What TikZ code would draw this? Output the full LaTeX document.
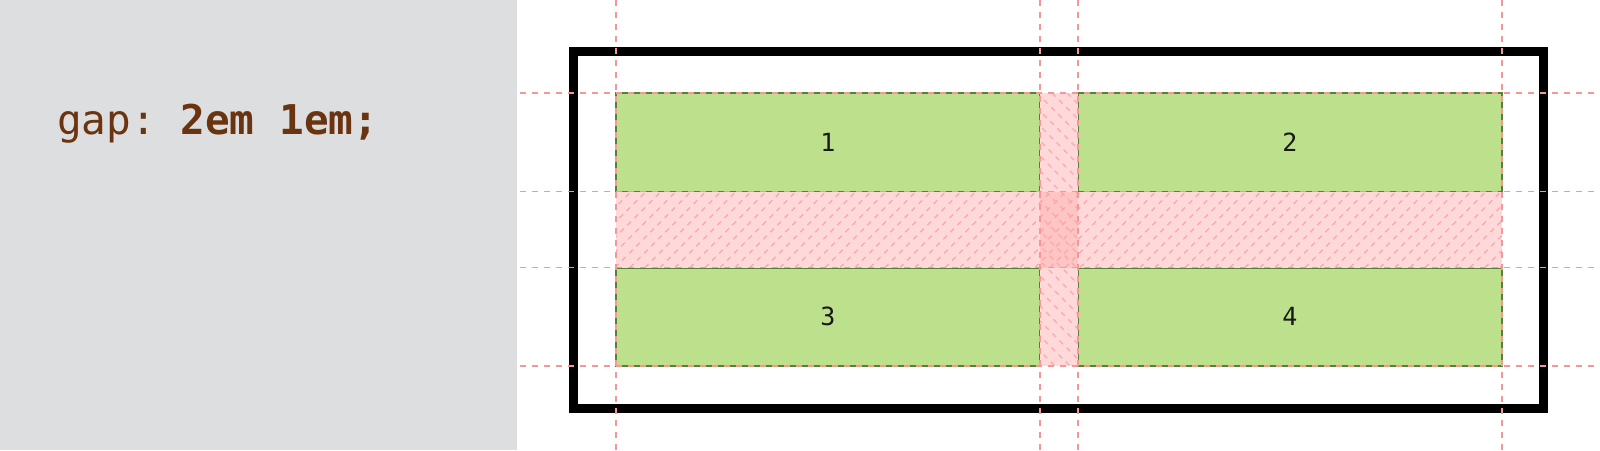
\documentclass[tikz,border=0pt]{standalone}
\usepackage{fontspec}
\setmonofont{DejaVu Sans Mono}
\usetikzlibrary{positioning}

\definecolor{panelgray}{RGB}{221,222,224}
\definecolor{codebrown}{RGB}{107,52,16}
\definecolor{cellgreen}{RGB}{189,224,140}
\definecolor{celledge}{RGB}{88,128,58}
\definecolor{guidepink}{RGB}{246,150,150}
\definecolor{hatchpink}{RGB}{250,168,168}
\definecolor{gappink}{RGB}{255,217,217}
\definecolor{crosspink}{RGB}{255,196,196}

\tikzset{
  cellbox/.style={draw=celledge, line width=2pt, fill=cellgreen,
    minimum width=424pt, minimum height=98.5pt, inner sep=0pt, outer sep=0pt,
    font=\ttfamily\fontsize{25}{30}\selectfont, text=black!90},
  hatch/.style={draw=hatchpink, line width=1.3pt, dash pattern=on 5pt off 5pt},
  guide/.style={draw=guidepink, line width=1.2pt, dash pattern=on 6pt off 6pt}
}

\begin{document}
\begin{tikzpicture}[x=1pt, y=-1pt]
  \useasboundingbox (0,0) rectangle (1600,450);

  % code panel
  \fill[panelgray] (0,0) rectangle (517,450);
  \node[anchor=base west, inner sep=0pt, text=codebrown,
        font=\ttfamily\fontsize{41}{48}\selectfont] (code) at (57,134)
        {gap: \textbf{2em 1em;}};

  % container
  \draw[line width=9pt] (573.5,51.5) rectangle (1543.5,408);

  % grid items
  \node[cellbox] (c1) at (828,142.25) {1};
  \node[cellbox, right=38pt of c1] (c2) {2};
  \node[cellbox, below=76pt of c1] (c3) {3};
  \node[cellbox, below=76pt of c2] (c4) {4};

  % gaps
  \fill[gappink] (c1.south west) rectangle (c4.north east);
  \fill[gappink] (c1.north east) rectangle (c4.south west);
  \fill[crosspink] (c1.south east) rectangle (c4.north west);
  \begin{scope}
    \clip (c1.south west) rectangle (c4.north east);
    \foreach \i in {0,...,66}
      \draw[hatch] (540+\i*15,267.5) -- ++(76,-76);
  \end{scope}
  \begin{scope}
    \clip (c1.north east) rectangle (c4.south west);
    \foreach \i in {0,...,22}
      \draw[hatch] (767+\i*15,93) -- ++(273,273);
  \end{scope}

  % guide lines
  \foreach \gx in {616,1040,1078,1502}
    \draw[guide] (\gx,0) -- (\gx,450);
  \foreach \gy in {93,191.5,267.5,366}
    \draw[guide] (520,\gy) -- (1600,\gy);
\end{tikzpicture}
\end{document}
